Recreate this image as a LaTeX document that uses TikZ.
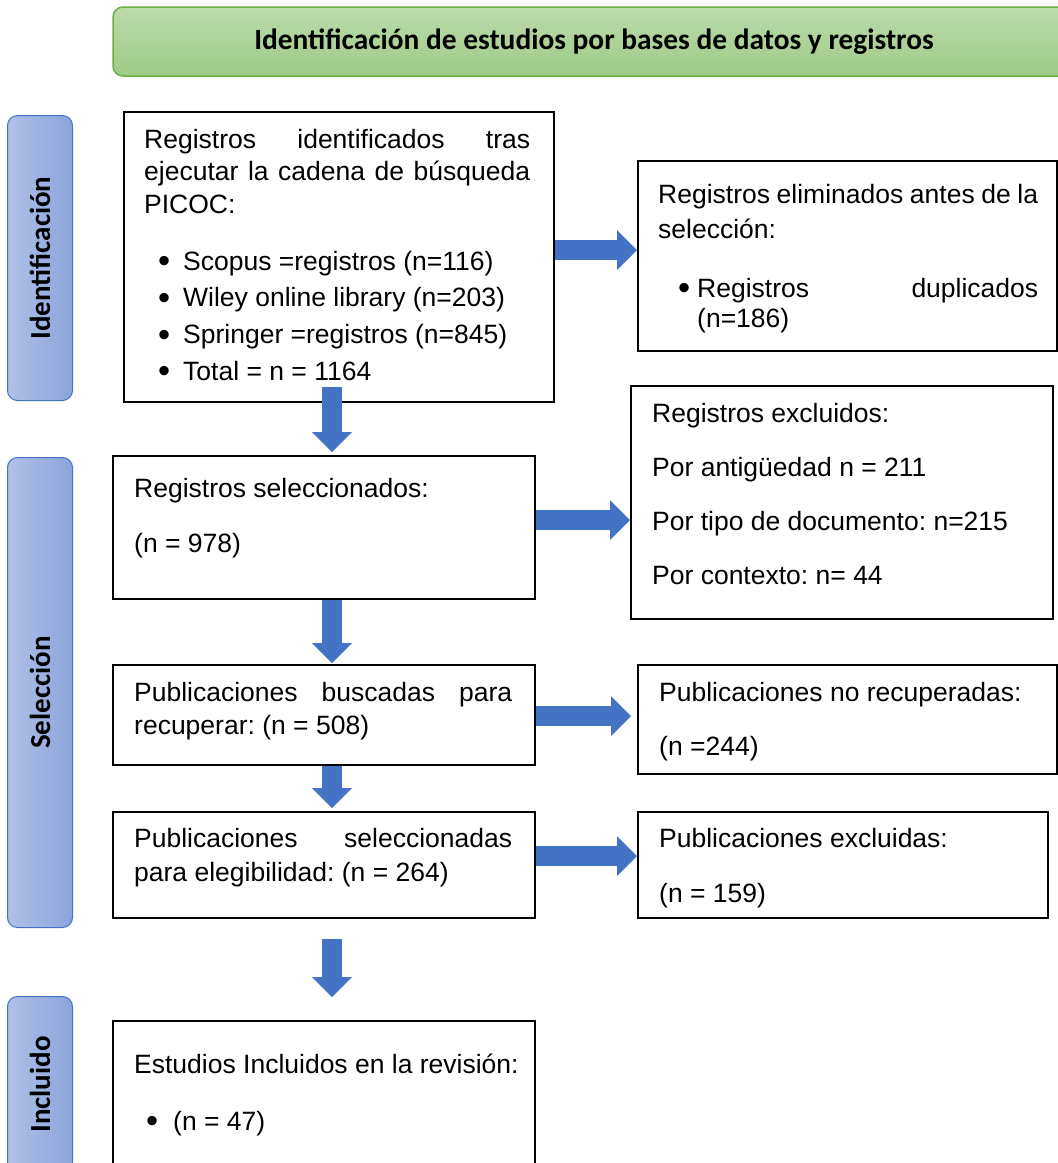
\documentclass[tikz,border=0pt]{standalone}
\usepackage{graphicx}
\usepackage{fontspec}
\setmainfont{Liberation Sans}
\newfontfamily\calibri{Carlito}
\usetikzlibrary{arrows.meta,positioning}
\definecolor{flowblue}{HTML}{4472C4}
\definecolor{sideL}{HTML}{B1C0E8}
\definecolor{sideR}{HTML}{8AA5DB}
\definecolor{headT}{HTML}{BBDBAA}
\definecolor{headB}{HTML}{9FCB86}
\definecolor{headD}{HTML}{70AD47}
\newcommand\txtfont{\fontsize{26.5}{32.5}\selectfont\frenchspacing}
\newcommand\flowtext[2]{\parbox[t]{#1}{\txtfont #2}}
\newcommand\bul[1][14pt]{\hspace*{#1}\makebox[\dimexpr39pt-#1\relax][l]{\raisebox{-0.1em}{\scalebox{1.3}{•}}}}
\tikzset{
  stage/.style={rectangle, draw=black, line width=2pt, anchor=north west, inner sep=0pt},
  txt/.style={anchor=base west, inner sep=0pt},
  phase/.style={rectangle, rounded corners=10pt, draw=flowblue, line width=1pt, left color=sideL, right color=sideR, anchor=north west, inner sep=0pt, font=\calibri\bfseries\fontsize{29}{34}\selectfont},
  banner/.style={rectangle, rounded corners=10pt, draw=headD, line width=1.5pt, top color=headT, bottom color=headB, inner sep=0pt, font=\calibri\bfseries\fontsize{29.4}{34}\selectfont},
  flow/.style={draw=flowblue, line width=20pt, -{Triangle[length=20pt, width=40pt, line width=0pt]}}
}
\begin{document}
\begin{tikzpicture}[x=1pt, y=-1pt]
  \path[use as bounding box, clip] (0,0) rectangle (1058,1163);
  % header and phases
  \node[banner, minimum width=962pt, minimum height=69pt] (head) at (594,41.5) {Identificación de estudios por bases de datos y registros};
  \node[phase, minimum width=65pt, minimum height=285pt] (ident) at (7,115) {\rotatebox{90}{Identificación}};
  \node[phase, minimum width=65pt, minimum height=470pt] (selec) at (7,457) {\rotatebox{90}{Selección}};
  \node[phase, minimum width=65pt, minimum height=176pt] (inclu) at (7,996) {\rotatebox{90}{Incluido}};
  % boxes
  \node[stage, minimum width=430pt, minimum height=290pt] (reg) at (123,111) {};
  \node[stage, minimum width=419pt, minimum height=190pt] (elim) at (637,160) {};
  \node[stage, minimum width=422pt, minimum height=143pt] (sel) at (112,455) {};
  \node[stage, minimum width=422pt, minimum height=233pt] (excl) at (630,385) {};
  \node[stage, minimum width=422pt, minimum height=100pt] (busc) at (112,664) {};
  \node[stage, minimum width=419pt, minimum height=109pt] (norec) at (637,664) {};
  \node[stage, minimum width=422pt, minimum height=106pt] (elig) at (112,811) {};
  \node[stage, minimum width=410pt, minimum height=106pt] (exclu) at (637,811) {};
  \node[stage, minimum width=422pt, minimum height=170pt] (incl) at (112,1020) {};
  % texts
  \node[txt] (regT) at ([shift={(21,37)}]reg.north west) {\flowtext{386pt}{%
    Registros\hfill identificados\hfill tras\\
    ejecutar\hfill la\hfill cadena\hfill de\hfill búsqueda\\
    PICOC:\\[24.5pt]
    \bul Scopus =registros (n=116)\\[4.2pt]
    \bul Wiley online library (n=203)\\[4.2pt]
    \bul Springer =registros (n=845)\\[4.2pt]
    \bul Total = n = 1164}};
  \node[txt] (elimT) at ([shift={(21,43)}]elim.north west) {\flowtext{380pt}{%
    Registros eliminados antes de la\\[2.5pt]
    selección:\\[26.5pt]
    \bul[20pt]Registros\hfill duplicados\\[-2.5pt]
    \hspace*{39pt}(n=186)}};
  \node[txt] (selT) at ([shift={(22,42)}]sel.north west) {\flowtext{390pt}{%
    Registros seleccionados:\\[22.5pt]
    (n = 978)}};
  \node[txt] (exclT) at ([shift={(22,37)}]excl.north west) {\flowtext{395pt}{%
    Registros excluidos:\\[21.5pt]
    Por antigüedad n = 211\\[21.5pt]
    Por tipo de documento: n=215\\[21.5pt]
    Por contexto: n= 44}};
  \node[txt] (buscT) at ([shift={(22,37)}]busc.north west) {\flowtext{378pt}{%
    Publicaciones\hfill buscadas\hfill para\\[0.5pt]
    recuperar: (n = 508)}};
  \node[txt] (norecT) at ([shift={(22,37)}]norec.north west) {\flowtext{395pt}{%
    Publicaciones no recuperadas:\\[21.5pt]
    (n =244)}};
  \node[txt] (eligT) at ([shift={(22,36)}]elig.north west) {\flowtext{378pt}{%
    Publicaciones\hfill seleccionadas\\[1.5pt]
    para elegibilidad: (n = 264)}};
  \node[txt] (excluT) at ([shift={(22,36)}]exclu.north west) {\flowtext{385pt}{%
    Publicaciones excluidas:\\[22.5pt]
    (n = 159)}};
  \node[txt] (inclT) at ([shift={(22,53)}]incl.north west) {\flowtext{395pt}{%
    Estudios Incluidos en la revisión:\\[24.5pt]
    \bul[12pt](n = 47)}};
  % arrows
  \draw[flow] ([xshift=-7pt,yshift=16pt]reg.south) -- ([xshift=8pt,yshift=3pt]sel.north);
  \draw[flow] ([xshift=8pt]sel.south) -- ([xshift=8pt,yshift=1pt]busc.north);
  \draw[flow] ([xshift=8pt]busc.south) -- ([xshift=8pt,yshift=3pt]elig.north);
  \draw[flow] ([xshift=8pt,yshift=-20pt]elig.south) -- ([xshift=8pt,yshift=23pt]incl.north);
  \draw[flow] ([yshift=7pt]reg.east) -- ([yshift=6pt]elim.west);
  \draw[flow] ([yshift=7.5pt]sel.east) -- ([yshift=-17.5pt]excl.west);
  \draw[flow] ([yshift=-1pt]busc.east) -- ([xshift=-6pt,yshift=3.5pt]norec.west);
  \draw[flow] ([yshift=9pt]elig.east) -- ([yshift=9pt]exclu.west);
\end{tikzpicture}
\end{document}
